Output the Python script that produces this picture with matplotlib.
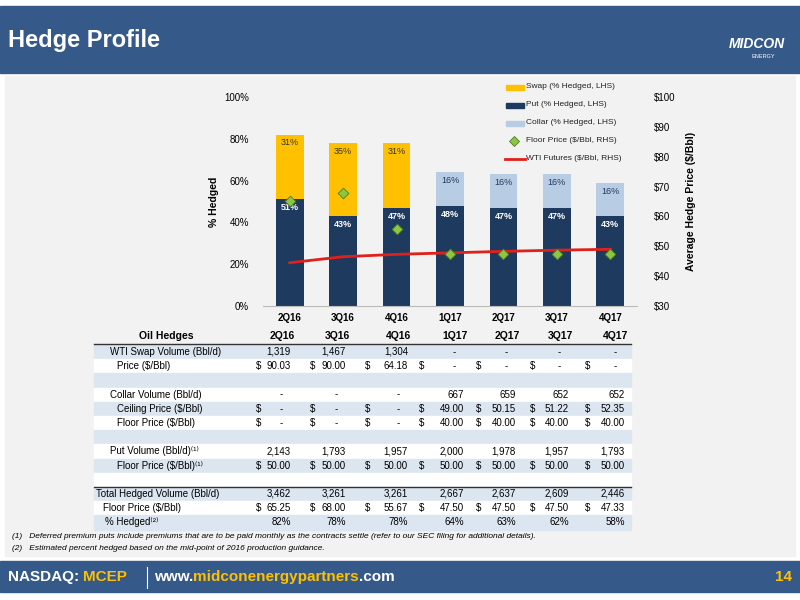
import matplotlib
matplotlib.use('Agg')
import matplotlib.pyplot as plt
from matplotlib.patches import Rectangle
from matplotlib.lines import Line2D

plt.rcParams['font.family'] = ['Liberation Sans', 'DejaVu Sans']

quarters = ['2Q16', '3Q16', '4Q16', '1Q17', '2Q17', '3Q17', '4Q17']
put_pct = [51, 43, 47, 48, 47, 47, 43]
swap_pct = [31, 35, 31, 0, 0, 0, 0]
collar_pct = [0, 0, 0, 16, 16, 16, 16]
floor_price = [65.25, 68.00, 55.67, 47.50, 47.50, 47.50, 47.33]
wti_futures = [44.5, 46.5, 47.3, 47.8, 48.3, 48.7, 49.0]

# table rows: (label, indent x px, values, dollar signs?)
table_rows = [
    ('WTI Swap Volume (Bbl/d)', 110, ['1,319', '1,467', '1,304', '-', '-', '-', '-'], False),
    ('Price ($/Bbl)', 117, ['90.03', '90.00', '64.18', '-', '-', '-', '-'], True),
    ('', 0, None, False),
    ('Collar Volume (Bbl/d)', 110, ['-', '-', '-', '667', '659', '652', '652'], False),
    ('Ceiling Price ($/Bbl)', 117, ['-', '-', '-', '49.00', '50.15', '51.22', '52.35'], True),
    ('Floor Price ($/Bbl)', 117, ['-', '-', '-', '40.00', '40.00', '40.00', '40.00'], True),
    ('', 0, None, False),
    ('Put Volume (Bbl/d)\u207d\u00b9\u207e', 110, ['2,143', '1,793', '1,957', '2,000', '1,978', '1,957', '1,793'], False),
    ('Floor Price ($/Bbl)\u207d\u00b9\u207e', 117, ['50.00'] * 7, True),
    ('', 0, None, False),
    ('Total Hedged Volume (Bbl/d)', 96, ['3,462', '3,261', '3,261', '2,667', '2,637', '2,609', '2,446'], False),
    ('Floor Price ($/Bbl)', 103, ['65.25', '68.00', '55.67', '47.50', '47.50', '47.50', '47.33'], True),
    ('% Hedged\u207d\u00b2\u207e', 105, ['82%', '78%', '78%', '64%', '63%', '62%', '58%'], False),
]

NAVY = '#1F3A5F'
GOLD = '#FFC000'
HEAD = '#355A8A'

fig = plt.figure(figsize=(8, 6), dpi=100)
renderer = fig.canvas.get_renderer()


def px(x, y):
    return x / 800, 1 - y / 600


def run_text(x, y, parts, **kw):
    # draw pieces of text one after another
    for s, c in parts:
        t = fig.text(*px(x, y), s, color=c, va='center', **kw)
        x += t.get_window_extent(renderer).width


# backgrounds
fig.patches.append(Rectangle(px(5, 556), 790 / 800, 480 / 600, transform=fig.transFigure,
                             color='#F2F2F2', zorder=0))
fig.patches.append(Rectangle(px(0, 73), 1, 67 / 600, transform=fig.transFigure, color=HEAD, zorder=0))
fig.patches.append(Rectangle(px(0, 592), 1, 31 / 600, transform=fig.transFigure, color=HEAD, zorder=0))
fig.text(*px(8, 40), 'Hedge Profile', color='white', fontsize=17, fontweight='bold', va='center')
fig.text(*px(785, 44), 'MIDCON', color='white', fontsize=10, fontweight='bold', style='italic',
         ha='right', va='center')
fig.text(*px(775, 56), 'ENERGY', color='white', fontsize=4, ha='right', va='center')

# footer
run_text(8, 577, [('NASDAQ: ', 'white'), ('MCEP ', GOLD)], fontsize=11, fontweight='bold')
fig.lines.append(Line2D([147 / 800] * 2, [px(0, 567)[1], px(0, 588)[1]], color='white', lw=0.8,
                        transform=fig.transFigure))
run_text(154, 577, [('www.', 'white'), ('midconenergypartners', GOLD), ('.com', 'white')],
         fontsize=11, fontweight='bold')
fig.text(*px(792, 577), '14', color=GOLD, fontsize=11, fontweight='bold', va='center', ha='right')

# chart
ax = fig.add_axes([263 / 800, 1 - 306 / 600, 374 / 800, 209 / 600], zorder=3)
ax.patch.set_alpha(0)
x = list(range(len(quarters)))
bottom2 = [p + c for p, c in zip(put_pct, collar_pct)]
ax.bar(x, put_pct, width=0.52, color=NAVY, zorder=2)
ax.bar(x, collar_pct, width=0.52, bottom=put_pct, color='#B8CCE4', zorder=2)
ax.bar(x, swap_pct, width=0.52, bottom=bottom2, color=GOLD, zorder=2)
for i in x:
    ax.text(i, put_pct[i] - 4, f'{put_pct[i]}%', color='white', ha='center', va='center',
            fontsize=6.5, fontweight='bold', zorder=4)
    if swap_pct[i]:
        ax.text(i, put_pct[i] + swap_pct[i] - 4, f'{swap_pct[i]}%', color='#333333', ha='center',
                va='center', fontsize=6.5, zorder=4)
    if collar_pct[i]:
        ax.text(i, put_pct[i] + collar_pct[i] - 4, f'{collar_pct[i]}%', color='#1F3A5F', ha='center',
                va='center', fontsize=6.5, zorder=4)
ax.set_xlim(-0.5, 6.5)
ax.set_ylim(0, 100)
ax.set_yticks([0, 20, 40, 60, 80, 100])
ax.set_yticklabels([f'{v}%' for v in [0, 20, 40, 60, 80, 100]], fontsize=7)
ax.set_xticks(x)
ax.set_xticklabels(quarters, fontsize=7, fontweight='bold')
ax.tick_params(axis='y', length=0, pad=10)
ax.tick_params(axis='x', length=0, pad=5)
for s in ['top', 'right', 'left']:
    ax.spines[s].set_visible(False)
ax.spines['bottom'].set_color('#BBBBBB')
ax.set_ylabel('% Hedged', fontsize=7.5, fontweight='bold', labelpad=4)

ax2 = ax.twinx()
ax2.set_ylim(30, 100)
ax2.plot(x, wti_futures, color='#E0201B', lw=2, zorder=3)
ax2.scatter(x, floor_price, marker='D', s=30, color='#8DC63F', edgecolor='#4E7A2A', lw=0.6, zorder=5)
ax2.set_yticks(range(30, 101, 10))
ax2.set_yticklabels([f'${v}' for v in range(30, 101, 10)], fontsize=7)
ax2.tick_params(length=0, pad=12)
for s in ax2.spines.values():
    s.set_visible(False)
ax2.set_ylabel('Average Hedge Price ($/Bbl)', fontsize=7.5, fontweight='bold', labelpad=8)

# legend
leg_y = [87, 105, 123, 141, 159]
leg_txt = ['Swap (% Hedged, LHS)', 'Put (% Hedged, LHS)', 'Collar (% Hedged, LHS)',
           'Floor Price ($/Bbl, RHS)', 'WTI Futures ($/Bbl, RHS)']
for k, (yy, t) in enumerate(zip(leg_y, leg_txt)):
    if k < 3:
        c = [GOLD, NAVY, '#B8CCE4'][k]
        fig.patches.append(Rectangle(px(506, yy + 2.5), 18 / 800, 5 / 600, transform=fig.transFigure, color=c))
    elif k == 3:
        fig.lines.append(Line2D([px(514, yy)[0]], [px(514, yy)[1]], marker='D', ms=5, color='#8DC63F',
                                mec='#4E7A2A', mew=0.6, transform=fig.transFigure))
    else:
        fig.lines.append(Line2D([505 / 800, 525 / 800], [px(0, yy)[1]] * 2, color='#E0201B', lw=2,
                                transform=fig.transFigure))
    fig.text(*px(526, yy), t, fontsize=6, va='center', color='#222222')

# table
col_dollar = [256, 310, 365, 419, 476, 530, 585]
col_end = [291, 346, 408, 464, 516, 569, 625]
fig.text(*px(166, 336), 'Oil Hedges', fontsize=7.5, fontweight='bold', ha='center', va='center')
for j, q in enumerate(quarters):
    fig.text(*px(col_end[j] - 9, 336), q, fontsize=7.5, fontweight='bold', ha='center', va='center')
fig.lines.append(Line2D([94 / 800, 631 / 800], [px(0, 344)[1]] * 2, color='#333333', lw=1,
                        transform=fig.transFigure))
row_h = 14.2
for r, (lab, ix, vals, dol) in enumerate(table_rows):
    yc = 352 + r * row_h
    shade = '#DCE6F1' if r % 2 == 0 else 'white'
    fig.patches.append(Rectangle(px(94, yc + row_h / 2), 537 / 800, row_h / 600,
                                 transform=fig.transFigure, color=shade, zorder=0.5))
    if vals is None:
        continue
    fig.text(*px(ix, yc), lab, fontsize=7, va='center', ha='left')
    for j, v in enumerate(vals):
        if dol:
            fig.text(*px(col_dollar[j], yc), '$', fontsize=7, va='center', ha='left')
        xe = col_end[j] - (8 if v == '-' else 0)
        fig.text(*px(xe, yc), v, fontsize=7, va='center', ha='right')
fig.lines.append(Line2D([94 / 800, 631 / 800], [px(0, 352 + 9.5 * row_h)[1]] * 2, color='#333333', lw=1,
                        transform=fig.transFigure))

fig.text(*px(12, 536), '(1)   Deferred premium puts include premiums that are to be paid monthly as the contracts settle '
         '(refer to our SEC filing for additional details).', fontsize=6, style='italic', va='center')
fig.text(*px(12, 548), '(2)   Estimated percent hedged based on the mid-point of 2016 production guidance.',
         fontsize=6, style='italic', va='center')

fig.savefig('out.png', dpi=100)
